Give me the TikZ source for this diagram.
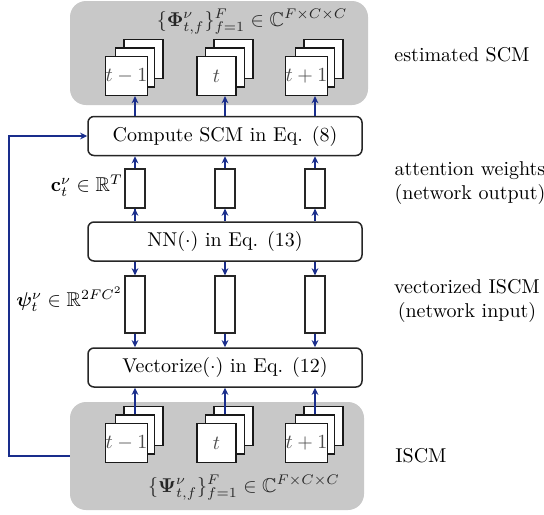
\documentclass[tikz,border=0pt]{standalone}
\usepackage{amsmath,amssymb,bm}
\usetikzlibrary{arrows.meta,calc}
\definecolor{arrblue}{RGB}{25,45,140}
\definecolor{bggray}{RGB}{200,200,200}
\begin{document}
\begin{tikzpicture}[x=0.5pt,y=-0.5pt,
  bgbox/.style={fill=bggray, rounded corners=8pt, draw=none, inner sep=0pt},
  blk/.style={draw=black!85, line width=0.75pt, rounded corners=3pt, fill=white,
    minimum width=137pt, minimum height=19.5pt, inner sep=0pt},
  sq/.style={draw=black!90, line width=0.6pt, fill=white, minimum size=19.5pt, inner sep=0pt,
    text=black!70},
  vecbox/.style={draw=black!85, line width=0.6pt, fill=white, minimum width=10pt, inner sep=0pt},
  arr/.style={draw=arrblue, line width=0.8pt, -{Stealth[length=3.6pt,width=3.4pt]}},
  lbl/.style={align=center, inner sep=0pt},
]
\useasboundingbox (0,0) rectangle (544,514);

% gray backgrounds
\node[bgbox, minimum width=149pt, minimum height=52pt] (topbg) at (219,53) {};
\node[bgbox, minimum width=147pt, minimum height=54pt] (botbg) at (217,456) {};

% main blocks
\node[blk] (cmp) at (225,136) {Compute SCM in Eq. (8)};
\node[blk] (nn) at (225,241.5) {NN$(\cdot)$ in Eq. (13)};
\node[blk] (vz) at (225,367.5) {Vectorize$(\cdot)$ in Eq. (12)};

% vectors
\foreach \i/\X in {1/135,2/225,3/315}{
  \node[vecbox, minimum height=19.5pt] (c\i) at (\X,188.5) {};
  \node[vecbox, minimum height=28.5pt] (p\i) at (\X,304.5) {};
}

% stacks top
\foreach \i/\X/\t in {1/135/{t-1},2/225/{t},3/315/{t+1}}{
  \node[sq] (tb\i) at (\X+8.5,59) {};
  \node[sq] (tm\i) at (\X,67.5) {};
  \node[sq] (tf\i) at (\X-8.5,76) {$\t$};
  \node[sq] (bb\i) at (\X+8.5,426) {};
  \node[sq] (bm\i) at (\X,434.5) {};
  \node[sq] (bf\i) at (\X-8.5,443) {$\t$};
}

% formulas
\node[lbl, text=black!85] (phi) at (252,22) {$\{\bm{\Phi}^{\nu}_{t,f}\}_{f=1}^{F}\in\mathbb{C}^{F\times C\times C}$};
\node[lbl, text=black!85] (psi) at (244,488) {$\{\bm{\Psi}^{\nu}_{t,f}\}_{f=1}^{F}\in\mathbb{C}^{F\times C\times C}$};

\node[lbl, anchor=east] (clbl) at (123,186) {$\mathbf{c}_t^{\nu}\in\mathbb{R}^{T}$};
\node[lbl, anchor=east] (plbl) at (123,299) {$\bm{\psi}_t^{\nu}\in\mathbb{R}^{2FC^2}$};

% right labels
\node[lbl] (l1) at (462,55) {estimated SCM};
\node[lbl] (l2) at (470,183) {attention weights\\(network output)};
\node[lbl] (l3) at (467,301) {vectorized ISCM\\(network input)};
\node[lbl] (l4) at (421,456) {ISCM};

% arrows
\foreach \i in {1,2,3}{
  \draw[arr] (c\i |- cmp.north) -- (c\i |- tf\i.south);
  \draw[arr] (c\i.north) -- (c\i |- cmp.south);
  \draw[arr] (c\i |- nn.north) -- (c\i.south);
  \draw[arr] (p\i |- nn.south) -- (p\i.north);
  \draw[arr] (p\i.south) -- (p\i |- vz.north);
  \draw[arr] (bm\i.north) -- (bm\i |- vz.south);
}
\draw[arr, -] (c1 |- nn.north) -- (c1.south);
\coordinate (fb) at (9,456);
\draw[arr] (botbg.west) -- (fb) |- (cmp.west);
\end{tikzpicture}
\end{document}
